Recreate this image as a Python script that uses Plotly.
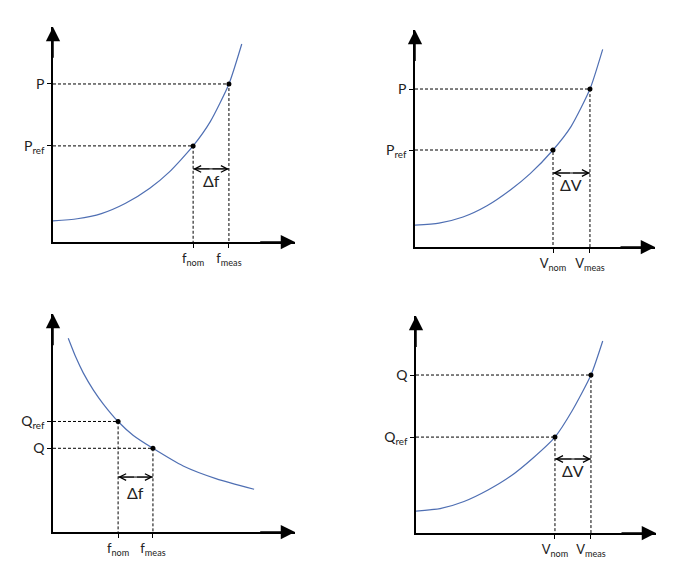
import plotly.graph_objects as go

# ---------------- Panel 1 : P versus f ----------------
p1_curve_x = [0.0, 1.0, 2.0, 3.0, 4.0, 4.8, 5.79, 6.5, 7.27, 7.8]
p1_curve_y = [0.98, 1.08, 1.32, 1.80, 2.50, 3.25, 4.47, 5.60, 7.35, 9.21]
p1_pts_x = [5.79, 7.27]
p1_pts_y = [4.47, 7.35]
p1_xlabels = ["f<sub>nom</sub>", "f<sub>meas</sub>"]
p1_ylabels = ["P<sub>ref</sub>", "P"]
p1_delta = "Δf"
p1_delta_y = 3.40
p1_delta_label_y = 2.84

# ---------------- Panel 2 : P versus V ----------------
p2_curve_x = [0.0, 1.0, 2.0, 3.0, 4.0, 4.8, 5.75, 6.5, 7.29, 7.82]
p2_curve_y = [1.01, 1.10, 1.38, 1.90, 2.65, 3.38, 4.47, 5.55, 7.28, 9.11]
p2_pts_x = [5.75, 7.29]
p2_pts_y = [4.47, 7.28]
p2_xlabels = ["V<sub>nom</sub>", "V<sub>meas</sub>"]
p2_ylabels = ["P<sub>ref</sub>", "P"]
p2_delta = "ΔV"
p2_delta_y = 3.41
p2_delta_label_y = 2.88

# ---------------- Panel 3 : Q versus f ----------------
p3_curve_x = [0.63, 0.95, 1.25, 1.67, 2.08, 2.69, 3.32, 4.13, 5.38, 6.76, 8.31]
p3_curve_y = [8.89, 8.00, 7.30, 6.51, 5.87, 5.07, 4.43, 3.84, 3.03, 2.44, 1.96]
p3_pts_x = [2.69, 4.13]
p3_pts_y = [5.07, 3.84]
p3_xlabels = ["f<sub>nom</sub>", "f<sub>meas</sub>"]
p3_ylabels = ["Q<sub>ref</sub>", "Q"]
p3_delta = "Δf"
p3_delta_y = 2.52
p3_delta_label_y = 1.83

# ---------------- Panel 4 : Q versus V ----------------
p4_curve_x = [0.0, 1.0, 2.0, 3.0, 3.92, 4.89, 5.79, 6.5, 7.29, 7.78]
p4_curve_y = [1.01, 1.12, 1.45, 1.98, 2.60, 3.47, 4.42, 5.62, 7.28, 8.85]
p4_pts_x = [5.79, 7.29]
p4_pts_y = [4.42, 7.28]
p4_xlabels = ["V<sub>nom</sub>", "V<sub>meas</sub>"]
p4_ylabels = ["Q<sub>ref</sub>", "Q"]
p4_delta = "ΔV"
p4_delta_y = 3.41
p4_delta_label_y = 2.86

AXIS_MAX = 10.0

# the page body keeps an 8px margin, so the figure is 16px smaller than the window
PAGE_MARGIN = 8
W, H = 698 - 2 * PAGE_MARGIN, 572 - 2 * PAGE_MARGIN
FONT = "Lato, Carlito, 'Open Sans', sans-serif"
CURVE_COLOR = "#4f6fb3"

# window-pixel boxes (origin x, tip x, origin y, tip y) for the four panels
boxes = [
    (53, 295, 242, 27),
    (415, 655, 247, 30),
    (53, 295, 532, 314),
    (416, 656, 533, 316),
]

panels = [
    (p1_curve_x, p1_curve_y, p1_pts_x, p1_pts_y, p1_xlabels, p1_ylabels, p1_delta, p1_delta_y, p1_delta_label_y),
    (p2_curve_x, p2_curve_y, p2_pts_x, p2_pts_y, p2_xlabels, p2_ylabels, p2_delta, p2_delta_y, p2_delta_label_y),
    (p3_curve_x, p3_curve_y, p3_pts_x, p3_pts_y, p3_xlabels, p3_ylabels, p3_delta, p3_delta_y, p3_delta_label_y),
    (p4_curve_x, p4_curve_y, p4_pts_x, p4_pts_y, p4_xlabels, p4_ylabels, p4_delta, p4_delta_y, p4_delta_label_y),
]


def fx(px):
    return (px - PAGE_MARGIN) / W


def fy(py):
    return 1 - (py - PAGE_MARGIN) / H


fig = go.Figure()
annotations = []
layout_axes = {}

for i, (cx, cy, px, py, xl, yl, dl, dy, dly) in enumerate(panels):
    n = "" if i == 0 else str(i + 1)
    xr, yr = "x" + n, "y" + n
    ox, tx, oy, ty = boxes[i]
    layout_axes["xaxis" + n] = dict(
        domain=[fx(ox), fx(tx)], range=[0, AXIS_MAX], anchor=yr, automargin=False,
        showgrid=False, zeroline=False, showline=True, linecolor="black", linewidth=1.5,
        ticks="outside", ticklen=4, tickwidth=1, tickcolor="black",
        tickvals=px, ticktext=xl, tickfont=dict(size=13, color="#222", family=FONT),
        fixedrange=True,
    )
    layout_axes["yaxis" + n] = dict(
        domain=[fy(oy), fy(ty)], range=[0, AXIS_MAX], anchor=xr, automargin=False,
        showgrid=False, zeroline=False, showline=True, linecolor="black", linewidth=1.5,
        ticks="outside", ticklen=4, tickwidth=1, tickcolor="black",
        tickvals=py, ticktext=yl, tickfont=dict(size=14, color="#222", family=FONT),
        fixedrange=True,
    )

    # dashed guide lines
    for k in range(2):
        fig.add_trace(go.Scatter(
            x=[0, px[k], px[k]], y=[py[k], py[k], 0], xaxis=xr, yaxis=yr,
            mode="lines", line=dict(color="black", width=1, dash="3px,2px"),
            hoverinfo="skip", showlegend=False, cliponaxis=False,
        ))
    # curve
    fig.add_trace(go.Scatter(
        x=cx, y=cy, xaxis=xr, yaxis=yr, mode="lines",
        line=dict(color=CURVE_COLOR, width=1.2, shape="spline", smoothing=0.6),
        hoverinfo="skip", showlegend=False, cliponaxis=False,
    ))
    # points
    fig.add_trace(go.Scatter(
        x=px, y=py, xaxis=xr, yaxis=yr, mode="markers",
        marker=dict(color="black", size=5),
        hoverinfo="skip", showlegend=False, cliponaxis=False,
    ))
    # delta double arrow bar
    fig.add_trace(go.Scatter(
        x=[px[0], px[1]], y=[dy, dy], xaxis=xr, yaxis=yr, mode="lines",
        line=dict(color="black", width=1),
        hoverinfo="skip", showlegend=False, cliponaxis=False,
    ))
    mid = (px[0] + px[1]) / 2
    for end in (px[0], px[1]):
        annotations.append(dict(
            x=end, y=dy, ax=mid, ay=dy, xref=xr, yref=yr, axref=xr, ayref=yr,
            text="", showarrow=True, arrowhead=5, arrowsize=1.3, arrowwidth=1,
            arrowcolor="black",
        ))
    annotations.append(dict(
        x=mid, y=dly, xref=xr, yref=yr, text=dl, showarrow=False,
        font=dict(size=16, color="#222", family=FONT),
    ))
    # axis arrow heads
    annotations.append(dict(
        x=AXIS_MAX, y=0, ax=AXIS_MAX * 0.85, ay=0, xref=xr, yref=yr, axref=xr, ayref=yr,
        text="", showarrow=True, arrowhead=2, arrowsize=1.9, arrowwidth=1.5,
        arrowcolor="black",
    ))
    annotations.append(dict(
        x=0, y=AXIS_MAX, ax=0, ay=AXIS_MAX * 0.85, xref=xr, yref=yr, axref=xr, ayref=yr,
        text="", showarrow=True, arrowhead=2, arrowsize=1.9, arrowwidth=1.5,
        arrowcolor="black",
    ))

fig.update_layout(
    width=W, height=H, margin=dict(l=0, r=0, t=0, b=0),
    paper_bgcolor="white", plot_bgcolor="white",
    font=dict(family=FONT, color="#222"),
    showlegend=False, annotations=annotations, **layout_axes,
)

fig.write_html("out.html", config={"displayModeBar": False})
